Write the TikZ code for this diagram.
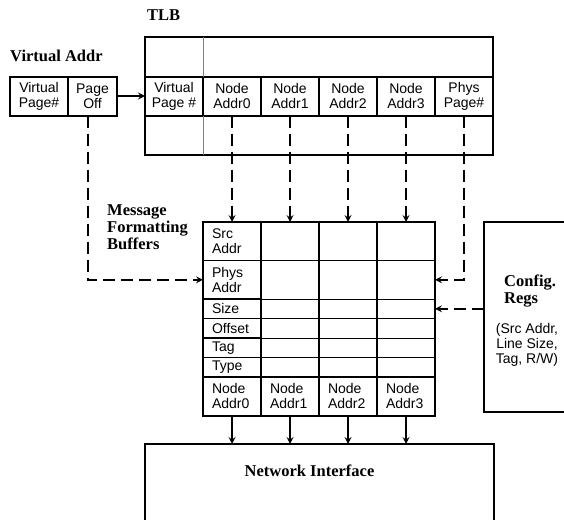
\documentclass[tikz,border=0pt]{standalone}
\usepackage{fontspec}
\setmainfont{Liberation Serif}
\setsansfont{Liberation Sans}
\usetikzlibrary{positioning, arrows, calc}
\newcommand{\cellfont}{\sffamily\fontsize{14}{15}\selectfont}
\newcommand{\headfont}{\rmfamily\bfseries\fontsize{16.5}{17}\selectfont}

\begin{document}
\begin{tikzpicture}[x=1pt, y=-1pt, >=stealth,
    cell/.style={rectangle, draw, line width=2pt, minimum width=58pt, minimum height=39pt, inner sep=0pt, outer sep=0pt, align=center, font=\cellfont},
    bufcell/.style={rectangle, draw, line width=1pt, minimum width=58pt, minimum height=19.5pt, inner sep=0pt, outer sep=0pt},
    buflabel/.style={bufcell, line width=1.5pt, text width=40pt, inner xsep=9pt, align=left, font=\cellfont},
    box/.style={rectangle, draw, line width=2pt, inner sep=0pt, outer sep=0pt, anchor=north west},
    heading/.style={font=\headfont, inner sep=0pt, align=left},
    dataflow/.style={->, line width=2pt, dash pattern=on 12pt off 6pt},
    wire/.style={->, line width=2pt}]
\useasboundingbox (0,0) rectangle (564,519);

% titles
\node[heading, anchor=base west] (tlbtitle) at (147,21) {TLB};
\node[heading, anchor=base west] (vatitle) at (10,61) {Virtual Addr};
\node[heading, anchor=north west] (buftitle) at (107,204) {Message\\Formatting\\Buffers};

% virtual address
\node[cell] (vvp) at (39,96) {Virtual\\Page\#};
\node[cell, minimum width=49pt, right=0pt of vvp] (vpo) {Page\\Off};

% TLB
\node[cell] (tlbvp) at (174,96) {Virtual\\Page \#};
\node[cell, right=0pt of tlbvp] (tlbna0) {Node\\Addr0};
\node[cell, right=0pt of tlbna0] (tlbna1) {Node\\Addr1};
\node[cell, right=0pt of tlbna1] (tlbna2) {Node\\Addr2};
\node[cell, right=0pt of tlbna2] (tlbna3) {Node\\Addr3};
\node[cell, right=0pt of tlbna3] (tlbpp) {Phys\\Page\#};
\node[box, minimum width=348pt, minimum height=39pt, anchor=south west] (tlbtop) at (tlbvp.north west) {};
\node[box, minimum width=348pt, minimum height=39pt] (tlbbot) at (tlbvp.south west) {};
\draw[gray, line width=0.8pt] (tlbvp.north east) -- (tlbvp.north east |- tlbtop.north);
\draw[gray, line width=0.8pt] (tlbvp.south east) -- (tlbvp.south east |- tlbbot.south);

% message formatting buffers
\node[buflabel, minimum height=38.5pt, anchor=north west] (src0) at (203,222) {Src\\Addr};
\node[buflabel, minimum height=38.5pt, below=0pt of src0] (phys0) {Phys\\Addr};
\node[buflabel, below=0pt of phys0] (size0) {Size};
\node[buflabel, below=0pt of size0] (offset0) {Offset};
\node[buflabel, below=0pt of offset0] (tag0) {Tag};
\node[buflabel, below=0pt of tag0] (type0) {Type};
\node[buflabel, minimum height=38.5pt, below=0pt of type0] (naddr0) {Node\\Addr0};
\foreach \c/\p in {1/0,2/1,3/2} {
  \node[bufcell, minimum height=38.5pt, right=0pt of src\p] (src\c) {};
  \node[bufcell, minimum height=38.5pt, right=0pt of phys\p] (phys\c) {};
  \node[bufcell, right=0pt of size\p] (size\c) {};
  \node[bufcell, right=0pt of offset\p] (offset\c) {};
  \node[bufcell, right=0pt of tag\p] (tag\c) {};
  \node[bufcell, right=0pt of type\p] (type\c) {};
  \node[buflabel, minimum height=38.5pt, right=0pt of naddr\p] (naddr\c) {Node\\Addr\c};
}
\draw[line width=2pt] (src0.north west) rectangle (naddr3.south east);
\foreach \c in {0,1,2}
  \draw[line width=2pt] (src\c.north east) -- (naddr\c.south east);
\draw[line width=2pt] (naddr0.north west) -- (naddr3.north east);

% config registers
\node[box, minimum width=88pt, minimum height=190pt] (cfg) at (484,222) {};
\node[heading, anchor=north west] (cfgname) at (504,275) {Config.\\Regs};
\node[font=\cellfont, align=center, inner sep=0pt, anchor=north] (cfgnote) at (527,323) {(Src Addr,\\ Line Size,\\Tag, R/W)};

% network interface
\node[box, minimum width=349pt, minimum height=100pt] (ni) at (145,444) {};
\node[heading, below=21pt of ni.north, xshift=-10pt] (nilabel) {Network Interface};

% connections
\draw[wire] (vpo.east) -- (tlbvp.west);
\draw[dataflow] ([xshift=-5pt]vpo.south) |- (phys0.west);
\foreach \c in {0,...,3}
  \draw[dataflow] (tlbna\c.south) -- (src\c.north);
\draw[dataflow] (tlbpp.south) |- (phys3.east);
\draw[dataflow] (size3.east -| cfg.west) -- (size3.east);
\foreach \c in {0,...,3}
  \draw[wire] (naddr\c.south) -- (naddr\c.south |- ni.north);
\end{tikzpicture}
\end{document}
